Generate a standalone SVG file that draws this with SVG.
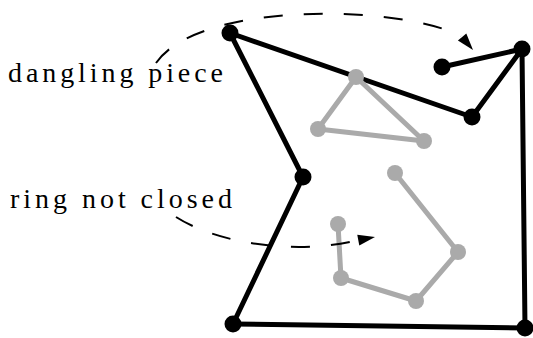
<svg xmlns="http://www.w3.org/2000/svg" width="533" height="338" viewBox="0 0 533 338">
<style>
.eb{stroke:#000;stroke-width:5;fill:none;stroke-linecap:round;stroke-linejoin:round}
.eg{stroke:#aaa;stroke-width:5;fill:none;stroke-linecap:round;stroke-linejoin:round}
.nb{fill:#000}
.ng{fill:#aaa}
.dash{stroke:#000;stroke-width:2;fill:none;stroke-dasharray:19 21}
.lbl{font-family:"Liberation Serif","Times New Roman",serif;font-size:28px;fill:#000}
</style>
<rect width="533" height="338" fill="#fff"/>
<g id="connectors">
  <line class="eb" x1="230" y1="33" x2="472" y2="117"/>
  <line class="eb" x1="472" y1="117" x2="522" y2="49"/>
  <line class="eb" x1="522" y1="49" x2="525" y2="328"/>
  <line class="eb" x1="525" y1="328" x2="233" y2="324"/>
  <line class="eb" x1="233" y1="324" x2="303" y2="177"/>
  <line class="eb" x1="303" y1="177" x2="230" y2="33"/>
  <line class="eb" x1="442" y1="67" x2="522" y2="49"/>
  <line class="eg" x1="356" y1="77" x2="318" y2="129"/>
  <line class="eg" x1="318" y1="129" x2="424" y2="141"/>
  <line class="eg" x1="424" y1="141" x2="356" y2="77"/>
  <line class="eg" x1="395" y1="173" x2="458" y2="252"/>
  <line class="eg" x1="458" y1="252" x2="416" y2="301"/>
  <line class="eg" x1="416" y1="301" x2="341" y2="278"/>
  <line class="eg" x1="341" y1="278" x2="338" y2="224"/>
</g>
<g id="nA"><circle class="nb" cx="230" cy="33" r="8.5"/></g>
<g id="nB"><circle class="nb" cx="472" cy="117" r="8.5"/></g>
<g id="nC"><circle class="nb" cx="522" cy="49" r="8.5"/></g>
<g id="nD"><circle class="nb" cx="525" cy="328" r="8.5"/></g>
<g id="nE"><circle class="nb" cx="233" cy="324" r="8.5"/></g>
<g id="nF"><circle class="nb" cx="303" cy="177" r="8.5"/></g>
<g id="nG"><circle class="nb" cx="442" cy="67" r="8.5"/></g>
<g id="t1"><circle class="ng" cx="356" cy="77" r="8"/></g>
<g id="t2"><circle class="ng" cx="318" cy="129" r="8"/></g>
<g id="t3"><circle class="ng" cx="424" cy="141" r="8"/></g>
<g id="r1"><circle class="ng" cx="395" cy="173" r="8"/></g>
<g id="r2"><circle class="ng" cx="458" cy="252" r="8"/></g>
<g id="r3"><circle class="ng" cx="416" cy="301" r="8"/></g>
<g id="r4"><circle class="ng" cx="341" cy="278" r="8"/></g>
<g id="r5"><circle class="ng" cx="338" cy="224" r="8"/></g>
<g id="annotations">
  <path class="dash" d="M156,63 C200,0 400,5 461,36"/>
  <polygon points="473,50 457.9,40.4 466.3,33.4" fill="#000"/>
  <path class="dash" d="M176,217 C220,245 300,255 358,240"/>
  <polygon points="375,237 359.3,245.5 357.3,234.7" fill="#000"/>
</g>
<g id="labels">
  <text class="lbl" x="8" y="82" textLength="215" lengthAdjust="spacing">dangling piece</text>
  <text class="lbl" x="10" y="208" textLength="222" lengthAdjust="spacing">ring not closed</text>
</g>
</svg>
